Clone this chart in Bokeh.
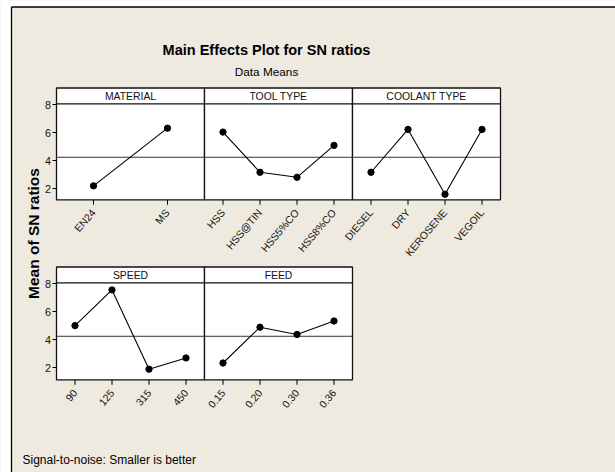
import math
from bokeh.plotting import figure
from bokeh.models import Range1d
from bokeh.core.properties import value
from bokeh.embed import file_html
from bokeh.resources import INLINE

# ---------------- data ----------------
factor_names = ["MATERIAL", "TOOL TYPE", "COOLANT TYPE", "SPEED", "FEED"]
material_levels = ["EN24", "MS"]
material_sn = [2.19, 6.31]
tool_levels = ["HSS", "HSS@TIN", "HSS5%CO", "HSS8%CO"]
tool_sn = [6.03, 3.16, 2.80, 5.08]
coolant_levels = ["DIESEL", "DRY", "KEROSENE", "VEGOIL"]
coolant_sn = [3.16, 6.22, 1.59, 6.22]
speed_levels = ["90", "125", "315", "450"]
speed_sn = [4.99, 7.54, 1.88, 2.68]
feed_levels = ["0.15", "0.20", "0.30", "0.36"]
feed_sn = [2.32, 4.88, 4.36, 5.32]
grand_mean = 4.23
y_ticks = [2, 4, 6, 8]
y_tick_labels = ["2", "4", "6", "8"]

title_text = "Main Effects Plot for SN ratios"
subtitle_text = "Data Means"
ylabel_text = "Mean of SN ratios"
footer_text = "Signal-to-noise: Smaller is better"

# ---------------- layout (pixels in picture coordinates) ----------------
W, H = 615, 472
BG = "#EEEAE0"
SANS = value("Liberation Sans")

col_left = [56, 204, 352]
panel_w = 148
rows = [dict(htop=87.5, dtop=103.3, dbot=199.3),
        dict(htop=266.5, dtop=282.3, dbot=379.3)]
v_top = 8.05
px_per_unit = 14.0
label_angle = math.atan2(1.0, 0.85)

p = figure(width=W, height=H, output_backend="svg", toolbar_location=None,
           x_range=Range1d(0, W), y_range=Range1d(H, 0),
           x_axis_type=None, y_axis_type=None, min_border=0,
           background_fill_color=BG, border_fill_color=BG,
           outline_line_color=None)
p.grid.visible = False

# white page edge + outer frame lines (left and top)
p.quad(left=[0, 0], right=[10.5, W], top=[0, 0], bottom=[H, 6],
       fill_color="white", line_color=None)
p.segment(x0=[11, 11], y0=[6.5, 6.5], x1=[11, W], y1=[H, 6.5],
          line_color="black", line_width=1.3)

# row y-ranges
for r, row in enumerate(rows):
    def v_at(img_y, row=row):
        return v_top - (img_y - row["dtop"]) / px_per_unit
    p.extra_y_ranges["row%d" % r] = Range1d(v_at(H), v_at(0))

panels = [
    (0, 0, factor_names[0], material_levels, material_sn),
    (0, 1, factor_names[1], tool_levels, tool_sn),
    (0, 2, factor_names[2], coolant_levels, coolant_sn),
    (1, 0, factor_names[3], speed_levels, speed_sn),
    (1, 1, factor_names[4], feed_levels, feed_sn),
]

for k, (r, c, name, levels, vals) in enumerate(panels):
    row = rows[r]
    L = col_left[c]
    n = len(levels)
    xr = "panel%d" % k
    yr = "row%d" % r
    p.extra_x_ranges[xr] = Range1d((0 - L) / panel_w * n, (W - L) / panel_w * n)

    # panel box and header
    p.quad(left=[L], right=[L + panel_w], top=[row["htop"]], bottom=[row["dbot"]],
           fill_color="white", line_color="#111111", line_width=1.3)
    p.segment(x0=[L], x1=[L + panel_w], y0=[row["dtop"]], y1=[row["dtop"]],
              line_color="#111111", line_width=1.3)
    p.text(x=[L + panel_w / 2], y=[(row["htop"] + row["dtop"]) / 2 + 0.5], text=[name],
           text_align="center", text_baseline="middle", text_font=SANS,
           text_font_size="10.4px", text_color="#111111")

    xs = [i + 0.5 for i in range(n)]
    # reference line (grand mean)
    p.line(x=[0, n], y=[grand_mean, grand_mean], x_range_name=xr, y_range_name=yr,
           line_color="#333333", line_width=1)
    # data
    p.line(x=xs, y=vals, x_range_name=xr, y_range_name=yr,
           line_color="black", line_width=1.1)
    p.scatter(x=xs, y=vals, x_range_name=xr, y_range_name=yr,
              size=6.3, fill_color="black", line_color="black")
    # x ticks and labels
    p.segment(x0=xs, x1=xs, y0=[row["dbot"]] * n, y1=[row["dbot"] + 5] * n,
              x_range_name=xr, line_color="black", line_width=1)
    p.text(x=xs, y=[row["dbot"] + 11] * n, text=levels, x_range_name=xr,
           angle=label_angle, text_align="right", text_baseline="middle",
           text_font=SANS, text_font_size="10.4px", text_color="#111111")

# y ticks
for r, row in enumerate(rows):
    yr = "row%d" % r
    nt = len(y_ticks)
    p.segment(x0=[52] * nt, x1=[56] * nt, y0=y_ticks, y1=y_ticks, y_range_name=yr,
              line_color="black", line_width=1)
    p.text(x=[50.5] * nt, y=y_ticks, text=y_tick_labels, y_range_name=yr,
           text_align="right", text_baseline="middle", text_font=SANS,
           text_font_size="10.8px", text_color="#111111")

# titles
p.text(x=[266], y=[49], text=[title_text], text_align="center", text_baseline="middle",
       text_font=SANS, text_font_style="bold", text_font_size="14.5px", text_color="black")
p.text(x=[266], y=[71.5], text=[subtitle_text], text_align="center", text_baseline="middle",
       text_font=SANS, text_font_size="11.8px", text_color="black")
p.text(x=[32.5], y=[233], text=[ylabel_text], angle=math.pi / 2, text_align="center",
       text_baseline="middle", text_font=SANS, text_font_style="bold",
       text_font_size="15.5px", text_color="black")
p.text(x=[22], y=[459], text=[footer_text], text_align="left", text_baseline="middle",
       text_font=SANS, text_font_size="12px", text_color="black")

open("out.html", "w").write(file_html(p, INLINE))
